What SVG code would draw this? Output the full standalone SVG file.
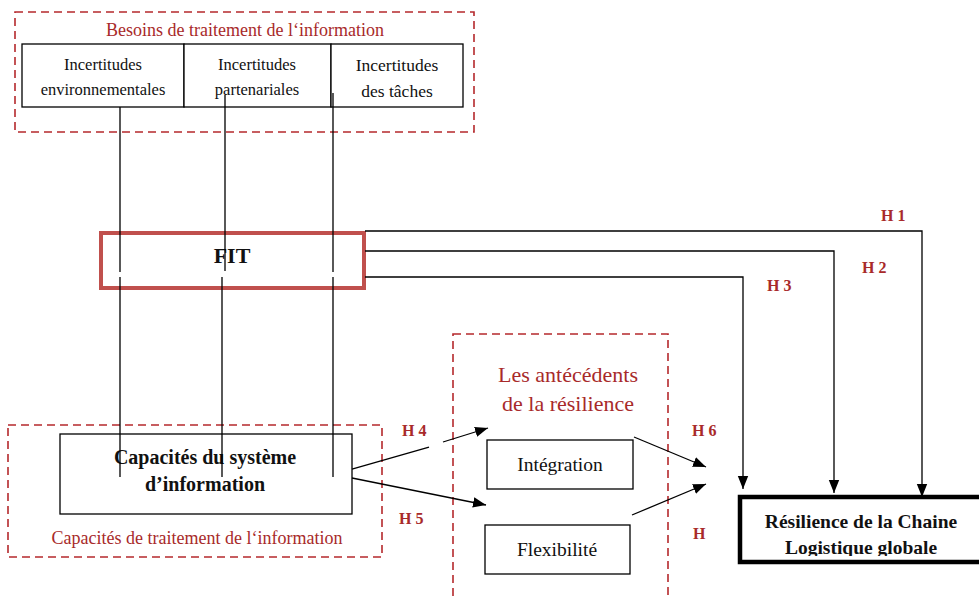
<svg xmlns="http://www.w3.org/2000/svg" width="979" height="600" viewBox="0 0 979 600">
<defs>
<style>
.dash{fill:none;stroke:#b5282c;stroke-width:1.6;stroke-dasharray:8 5}
.box{fill:#fff;stroke:#000;stroke-width:1.3}
.t{font-family:"Liberation Serif","Times New Roman",serif;fill:#111;text-anchor:middle}
.r{font-family:"Liberation Serif","Times New Roman",serif;fill:#a82a2a;text-anchor:middle}
.h{font-family:"Liberation Serif","Times New Roman",serif;fill:#a82a2a;font-weight:bold;font-size:16px}
.ln{fill:none;stroke:#000;stroke-width:1.3}
</style>
<marker id="ahb" viewBox="0 0 10 10" refX="10" refY="5" markerWidth="13" markerHeight="13" markerUnits="userSpaceOnUse" orient="auto">
<path d="M0,1 L10,5 L0,9 z" fill="#000"/>
</marker>
<clipPath id="cut"><rect x="740" y="497" width="245" height="59"/></clipPath>
</defs>
<rect width="979" height="600" fill="#fff"/>

<g id="besoins">
<rect class="dash" x="15" y="12" width="459" height="120"/>
<text class="r" x="245" y="36" font-size="18">Besoins de traitement de l‘information</text>
</g>
<g id="inc-env">
<rect class="box" x="22" y="44" width="162" height="63"/>
<text class="t" x="103" y="70" font-size="16.5">Incertitudes</text>
<text class="t" x="103" y="95" font-size="16.5">environnementales</text>
</g>
<g id="inc-part">
<rect class="box" x="184" y="44" width="147" height="63"/>
<text class="t" x="257" y="70" font-size="16.5">Incertitudes</text>
<text class="t" x="257" y="95" font-size="16.5">partenariales</text>
</g>
<g id="inc-taches">
<rect class="box" x="331" y="44" width="132" height="63"/>
<text class="t" x="397" y="71" font-size="17.5">Incertitudes</text>
<text class="t" x="397" y="97" font-size="17.5">des tâches</text>
</g>

<g id="fit">
<rect x="101" y="233" width="263" height="55" fill="none" stroke="#c0504d" stroke-width="4"/>
<text class="t" x="232" y="263" font-size="22" font-weight="bold">FIT</text>
</g>

<g id="capacites">
<rect class="dash" x="8" y="425" width="374" height="132"/>
<rect class="box" x="60" y="434" width="292" height="80"/>
<text class="t" x="205" y="464" font-size="20" font-weight="bold">Capacités du système</text>
<text class="t" x="205" y="491" font-size="20" font-weight="bold">d’information</text>
<text class="r" x="197" y="544" font-size="18">Capacités de traitement de l‘information</text>
</g>

<g id="antecedents">
<rect class="dash" x="453" y="334" width="215" height="280"/>
<text class="r" x="568" y="382" font-size="22">Les antécédents</text>
<text class="r" x="568" y="411" font-size="22">de la résilience</text>
</g>
<g id="integration">
<rect class="box" x="487" y="440" width="146" height="49"/>
<text class="t" x="560" y="471" font-size="19.5">Intégration</text>
</g>
<g id="flexibilite">
<rect class="box" x="485" y="525" width="145" height="49"/>
<text class="t" x="557" y="556" font-size="19.5">Flexibilité</text>
</g>

<g id="resilience">
<g clip-path="url(#cut)">
<text class="t" x="861" y="528" font-size="19.5" font-weight="bold">Résilience de la Chaine</text>
<text class="t" x="861" y="554" font-size="19.5" font-weight="bold">Logistique globale</text>
</g>
<rect x="740" y="497" width="245" height="65" fill="none" stroke="#000" stroke-width="4.5"/>
</g>

<g id="connectors">
<path class="ln" d="M120,107 V272 M120,277 V477"/>
<path class="ln" d="M225,95 V271 M222,277 V477"/>
<path class="ln" d="M333,93 V272 M333,277 V477"/>
<path class="ln" d="M365,231 H922 V497" marker-end="url(#ahb)"/>
<path class="ln" d="M365,251 H834 V493" marker-end="url(#ahb)"/>
<path class="ln" d="M365,277 H743 V489" marker-end="url(#ahb)"/>
<path class="ln" d="M352,469 L429,447"/>
<path class="ln" d="M443,442 L488,428" marker-end="url(#ahb)"/>
<path class="ln" d="M352,478 L486,505" marker-end="url(#ahb)"/>
<path class="ln" d="M634,437 L706,467" marker-end="url(#ahb)"/>
<path class="ln" d="M632,515 L706,484" marker-end="url(#ahb)"/>
</g>

<g id="labels">
<text class="h" x="881" y="221">H 1</text>
<text class="h" x="862" y="273">H 2</text>
<text class="h" x="767" y="291">H 3</text>
<text class="h" x="402" y="436">H 4</text>
<text class="h" x="399" y="524">H 5</text>
<text class="h" x="692" y="436">H 6</text>
<text class="h" x="693" y="539">H</text>
</g>
</svg>
